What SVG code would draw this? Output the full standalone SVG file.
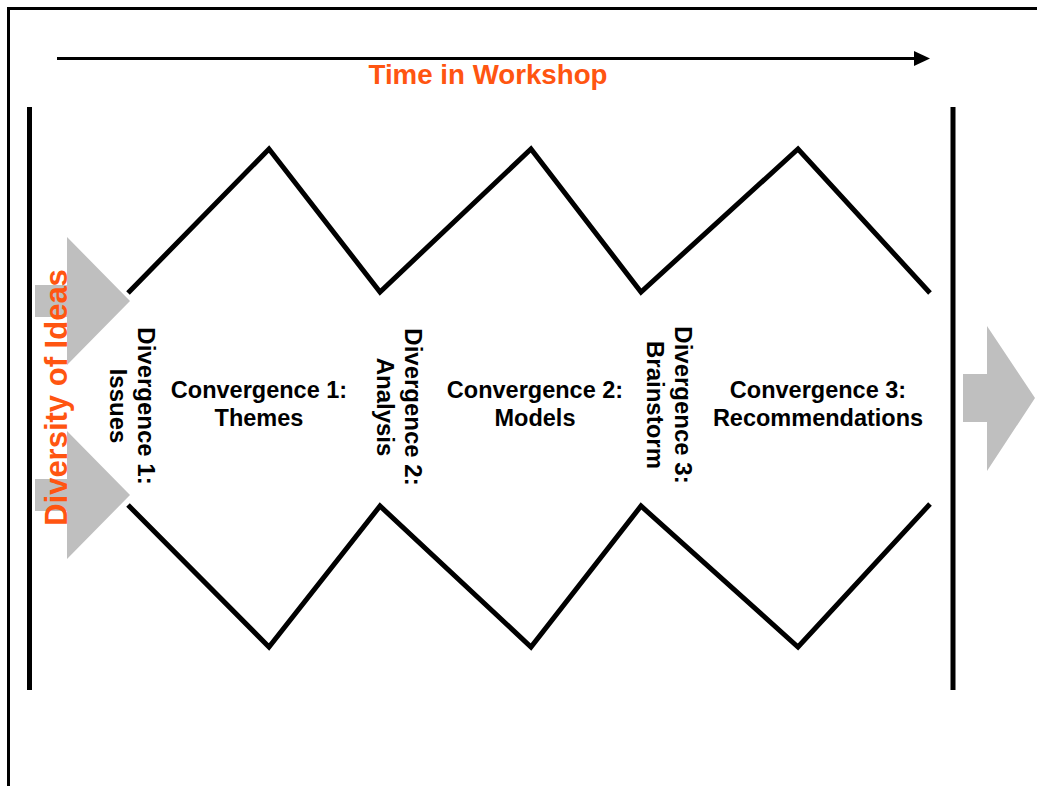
<svg xmlns="http://www.w3.org/2000/svg" width="1037" height="786" viewBox="0 0 1037 786">
<style>
.frame{fill:none;stroke:#000;stroke-width:3}
.bar{stroke:#000;stroke-width:5}
.zig{fill:none;stroke:#000;stroke-width:5;stroke-linejoin:miter}
.gray{fill:#BFBFBF}
.lbl{font-family:"Liberation Sans",Arial,sans-serif;font-weight:bold;fill:#000}
.conv{font-size:23.5px}
.div{font-size:24px}
.orange{font-family:"Liberation Sans",Arial,sans-serif;font-weight:bold;fill:#FF5511}
</style>
<rect width="1037" height="786" fill="#fff"/>
<rect class="frame" x="8.5" y="8.5" width="1100" height="900"/>
<g id="time-axis">
<line x1="57" y1="58.5" x2="916" y2="58.5" stroke="#000" stroke-width="3"/>
<polygon points="914,51 930,58.5 914,66" fill="#000"/>
<text class="orange" x="488" y="84" font-size="27.7" text-anchor="middle">Time in Workshop</text>
</g>
<g id="bounds">
<line class="bar" x1="29.5" y1="107" x2="29.5" y2="690"/>
<line class="bar" x1="953" y1="107" x2="953" y2="690"/>
</g>
<g id="input-arrows">
<polygon class="gray" points="35,285 67,285 67,237 130,301 67,365 67,317 35,317"/>
<polygon class="gray" points="35,479 67,479 67,431 130,495 67,559 67,511 35,511"/>
</g>
<g id="output-arrow">
<polygon class="gray" points="963,374 987,374 987,326 1035,398 987,471 987,422 963,422"/>
</g>
<g id="connectors">
<polyline class="zig" points="128,293 269,149 380,292 531,149 641,292 798,149 930,293"/>
<polyline class="zig" points="128,505 269,647 380,506 531,647 641,506 798,647 930,504"/>
</g>
<g id="diversity">
<text class="orange" font-size="31" text-anchor="middle" transform="translate(67,397.5) rotate(-90)">Diversity of Ideas</text>
</g>
<g id="divergence-1">
<text class="lbl div" text-anchor="middle" transform="translate(138,406) rotate(90)"><tspan x="0" y="0">Divergence 1:</tspan><tspan x="0" y="28">Issues</tspan></text>
</g>
<g id="convergence-1">
<text class="lbl conv" text-anchor="middle"><tspan x="259" y="398">Convergence 1:</tspan><tspan x="259" y="426">Themes</tspan></text>
</g>
<g id="divergence-2">
<text class="lbl div" text-anchor="middle" transform="translate(405,407) rotate(90)"><tspan x="0" y="0">Divergence 2:</tspan><tspan x="0" y="28">Analysis</tspan></text>
</g>
<g id="convergence-2">
<text class="lbl conv" text-anchor="middle"><tspan x="535" y="398">Convergence 2:</tspan><tspan x="535" y="426">Models</tspan></text>
</g>
<g id="divergence-3">
<text class="lbl div" text-anchor="middle" transform="translate(675,405) rotate(90)"><tspan x="0" y="0">Divergence 3:</tspan><tspan x="0" y="28">Brainstorm</tspan></text>
</g>
<g id="convergence-3">
<text class="lbl conv" text-anchor="middle"><tspan x="818" y="398">Convergence 3:</tspan><tspan x="818" y="426">Recommendations</tspan></text>
</g>
</svg>
